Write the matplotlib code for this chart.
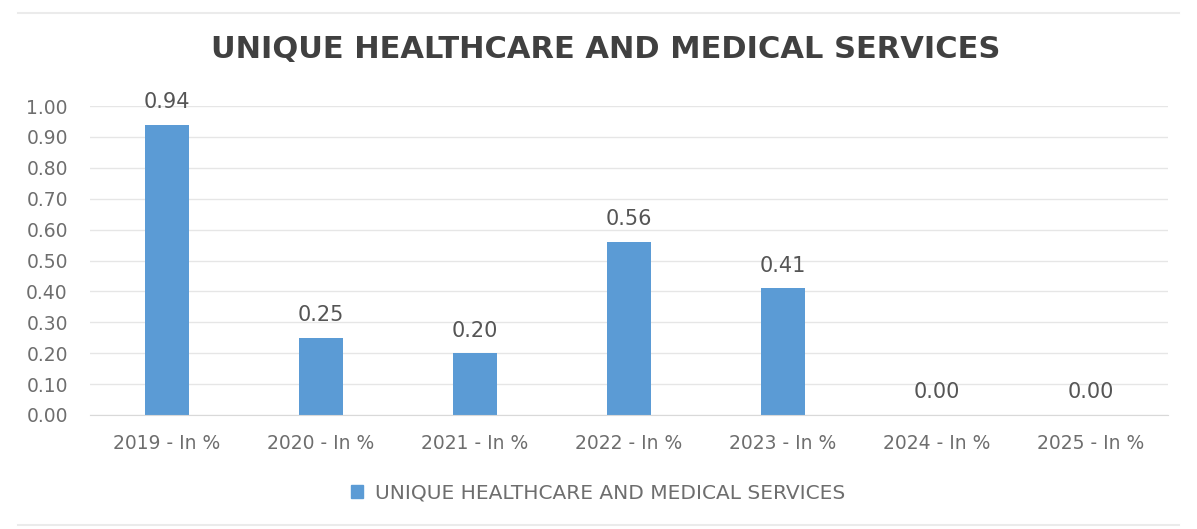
import matplotlib
matplotlib.use("Agg")
import matplotlib.pyplot as plt
from matplotlib.lines import Line2D
from matplotlib.patches import Patch

plt.rcParams["font.family"] = ["DejaVu Sans"]

categories = ["2019 - In %", "2020 - In %", "2021 - In %", "2022 - In %",
              "2023 - In %", "2024 - In %", "2025 - In %"]
values = [0.94, 0.25, 0.20, 0.56, 0.41, 0.00, 0.00]
series_name = "UNIQUE HEALTHCARE AND MEDICAL SERVICES"
title = "UNIQUE HEALTHCARE AND MEDICAL SERVICES"

BLUE = "#5B9BD5"
TEXT = "#6E6E6E"

fig = plt.figure(figsize=(11.97, 5.29), dpi=100)
ax = fig.add_axes([90 / 1197, 1 - 415 / 529, 1078 / 1197, 309 / 529])

x = range(len(categories))
bars = ax.bar(x, values, width=0.29, color=BLUE, zorder=2)
for b, v in zip(bars, values):
    ax.annotate(f"{v:.2f}", (b.get_x() + b.get_width() / 2, v),
                xytext=(0, 9), textcoords="offset points",
                ha="center", va="bottom", fontsize=15, color="#555555")

ax.set_xlim(-0.5, len(categories) - 0.5)
ax.set_ylim(0, 1.0)
ax.set_yticks([i / 10 for i in range(11)])
ax.set_yticklabels([f"{i / 10:.2f}" for i in range(11)])
ax.set_xticks(list(x))
ax.set_xticklabels(categories)
ax.tick_params(axis="both", length=0, labelsize=13.5, colors=TEXT)
ax.tick_params(axis="y", pad=16)
ax.tick_params(axis="x", pad=14)
ax.grid(axis="y", color="#E6E6E6", linewidth=1, zorder=0)
for s in ["top", "right", "left"]:
    ax.spines[s].set_visible(False)
ax.spines["bottom"].set_color("#D9D9D9")

fig.text(0.506, 1 - 50 / 529, title, ha="center", va="center",
         fontsize=22, fontweight="bold", color="#404040")

fig.legend(handles=[Patch(color=BLUE, label=series_name)],
           loc="center", bbox_to_anchor=(0.5, 1 - 493 / 529),
           frameon=False, fontsize=14.5, labelcolor=TEXT,
           handlelength=0.6, handleheight=0.6, handletextpad=0.6)

fig.add_artist(Line2D([0.015, 0.985], [1 - 13 / 529] * 2, color="#EBEBEB", lw=1.5))
fig.add_artist(Line2D([0.015, 0.985], [1 - 525 / 529] * 2, color="#EBEBEB", lw=1.5))

fig.savefig("out.png", dpi=100)
